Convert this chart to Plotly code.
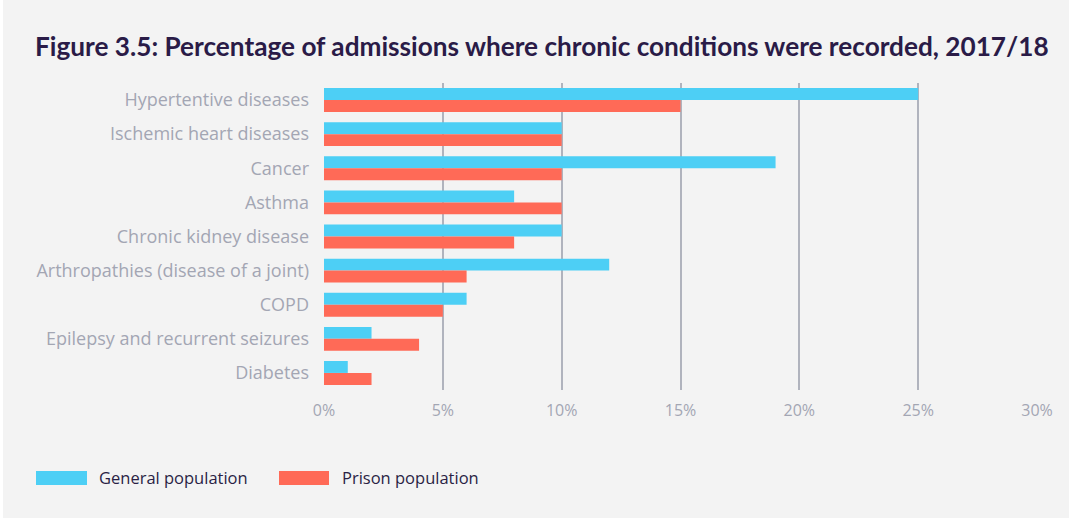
import plotly.graph_objects as go

categories = ["Hypertentive diseases", "Ischemic heart diseases", "Cancer", "Asthma",
              "Chronic kidney disease", "Arthropathies (disease of a joint)", "COPD",
              "Epilepsy and recurrent seizures", "Diabetes"]
general = [25, 10, 19, 8, 10, 12, 6, 2, 1]
prison = [15, 10, 10, 10, 8, 6, 5, 4, 2]
x_ticks = [0, 5, 10, 15, 20, 25, 30]
x_ticklabels = ["0%", "5%", "10%", "15%", "20%", "25%", "30%"]
series_names = ["General population", "Prison population"]
colors = ["#4dcff5", "#ff6a57"]

W, H = 1069, 518
L, R, T, B = 324, 32, 83, 128
pw = W - L - R
ph = H - T - B

def px_x(p):
    return (p - L) / pw

def px_y(p):
    return 1 - (p - T) / ph

fig = go.Figure()
for name, vals, col in zip(series_names, [general, prison], colors):
    fig.add_trace(go.Bar(y=categories, x=vals, name=name, orientation="h",
                         marker=dict(color=col, line=dict(width=0)), showlegend=False,
                         hoverinfo="skip"))

label_font = "'Open Sans', sans-serif"
title_font = "Lato, sans-serif"
fig.update_layout(
    width=W, height=H,
    margin=dict(l=L, r=R, t=T, b=B, pad=0),
    paper_bgcolor="#f3f3f3", plot_bgcolor="#f3f3f3",
    barmode="group", bargap=0.3, bargroupgap=0,
    title=dict(text="<b>Figure 3.5: Percentage of admissions where chronic conditions were recorded, 2017/18</b>",
               x=35 / W, xanchor="left", xref="container", y=1 - 47 / H, yanchor="middle", yref="container",
               font=dict(family=title_font, size=26.2, color="#2a1b47")),
    font=dict(family=label_font),
)
fig.update_xaxes(range=[0, 30], tickvals=x_ticks, ticktext=x_ticklabels,
                 showgrid=True, gridcolor="#b0b3bd", gridwidth=2, zeroline=False,
                 showline=False, ticklabelstandoff=9,
                 tickfont=dict(family=label_font, size=16, color="#a3a6b3"))
fig.update_yaxes(autorange="reversed", showgrid=False, zeroline=False, showline=False,
                 ticklabelstandoff=14,
                 tickfont=dict(family=label_font, size=18, color="#a3a6b3"))

# thin white strip on the left edge
fig.add_shape(type="rect", xref="paper", yref="paper", x0=px_x(0), x1=px_x(3),
              y0=px_y(H), y1=px_y(0), fillcolor="#ffffff", line=dict(width=0), layer="below")

# custom legend
leg_y = 478
legend_items = [(36, 87, 97), (279, 329, 340)]
for (x0, x1, tx), name, col in zip(legend_items, series_names, colors):
    fig.add_shape(type="rect", xref="paper", yref="paper",
                  x0=px_x(x0), x1=px_x(x1), y0=px_y(leg_y + 7), y1=px_y(leg_y - 7),
                  fillcolor=col, line=dict(width=0))
    fig.add_annotation(xref="paper", yref="paper", x=px_x(tx), y=px_y(leg_y),
                       xanchor="left", yanchor="middle", showarrow=False, text=name,
                       font=dict(family=label_font, size=16.5, color="#2a1f45"))

fig.write_html("out.html", config={"displayModeBar": False},
               post_script="document.body.style.margin='0';document.body.style.overflow='hidden';")
